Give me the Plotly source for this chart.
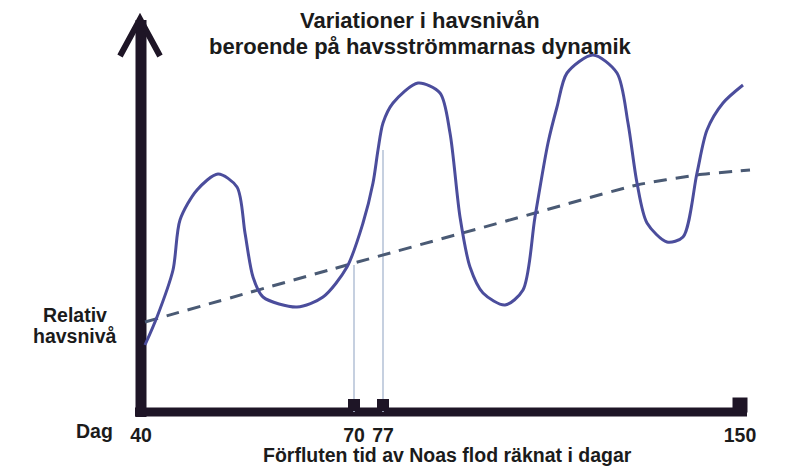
import plotly.graph_objects as go

# ---- data (schematic units: x = position along the drawn time axis, y = relative sea level) ----
day_labels = ["40", "70", "77", "150"]
day_axis_pos = [0, 213, 242, 599]

curve_x = [4, 16, 32, 39, 56, 77, 96, 104, 112, 122, 156, 182, 206, 222, 232, 237, 242, 252,
           277, 299, 309, 319, 329, 342, 364, 382, 394, 407, 416, 426, 452, 476, 487, 496,
           506, 526, 542, 556, 566, 582, 602]
curve_y = [67, 95, 142, 192, 222, 238, 225, 179, 135, 115, 105, 115, 145, 189, 229, 262, 289, 309,
           329, 319, 279, 195, 145, 119, 107, 122, 195, 269, 305, 339, 357, 339, 289, 229,
           189, 170, 175, 239, 282, 309, 327]

trend_x = [4, 206, 394, 496, 556, 609]
trend_y = [90, 147, 199, 227, 237, 242]

marked_days_pos = [213, 242]      # day 70 and day 77
marked_days_top = [147, 262]

FONT = "Liberation Sans"
AX = "#1e1526"
TXT = "#1b1b1b"

W, H = 792, 471
ML, MR, MT, MB = 100, 22, 10, 50
PW, PH = W - ML - MR, H - MT - MB

fig = go.Figure()

# thin vertical guide lines at day 70 and 77
for xp, yt in zip(marked_days_pos, marked_days_top):
    fig.add_trace(go.Scatter(x=[xp, xp], y=[0, yt], mode="lines",
                             line=dict(color="#b3c1d6", width=1.5), hoverinfo="skip", showlegend=False))

# dashed trend
fig.add_trace(go.Scatter(x=trend_x, y=trend_y, mode="lines",
                         line=dict(color="#4a5a74", width=3, dash="13px,9px", shape="spline", smoothing=0.6),
                         showlegend=False))

# sea level curve
fig.add_trace(go.Scatter(x=curve_x, y=curve_y, mode="lines",
                         line=dict(color="#4b4d9c", width=3, shape="spline", smoothing=0.8),
                         showlegend=False))

# square markers on the time axis
fig.add_trace(go.Scatter(x=day_axis_pos[1:], y=[7, 7, 7], mode="markers",
                         marker=dict(symbol="square", size=[12, 12, 15], color=AX, opacity=1,
                                     line=dict(width=0)),
                         cliponaxis=False, showlegend=False))

# axes (drawn as shapes, below the traces)
fig.add_shape(type="line", x0=-6, x1=606, y0=0, y1=0, line=dict(color=AX, width=9), layer="below")
fig.add_shape(type="line", x0=0, x1=0, y0=-5, y1=392, line=dict(color=AX, width=11), layer="below")
fig.add_shape(type="path", path="M -21 356 L -1 393 L 19 356", line=dict(color=AX, width=6), layer="below")


def ann(text, px, py, size):
    fig.add_annotation(text=text, x=(px - ML) / PW, y=(H - MB - py) / PH, xref="paper", yref="paper",
                       showarrow=False,
                       font=dict(family=FONT, size=size, color=TXT, weight="bold"),
                       xanchor="center", yanchor="middle")


ann("Variationer i havsnivån", 420, 21, 22)
ann("beroende på havsströmmarnas dynamik", 420, 46, 22)
ann("Relativ", 75, 315, 19.5)
ann("havsnivå", 75, 336, 19.5)
ann("Dag", 94, 431, 19.5)
ann("Förfluten tid av Noas flod räknat i dagar", 447, 455, 19.5)

fig.update_layout(
    width=W, height=H,
    margin=dict(l=ML, r=MR, t=MT, b=MB),
    paper_bgcolor="white", plot_bgcolor="white",
    xaxis=dict(range=[-41, 629], showgrid=False, zeroline=False, showline=False,
               tickmode="array", tickvals=day_axis_pos, ticktext=day_labels, ticks="",
               tickfont=dict(family=FONT, size=19.5, color=TXT, weight="bold")),
    yaxis=dict(range=[-9, 402], showgrid=False, zeroline=False, showline=False, showticklabels=False),
    showlegend=False,
)

fig.write_html("out.html", config={"displayModeBar": False},
               post_script="document.body.style.margin='0px';")
